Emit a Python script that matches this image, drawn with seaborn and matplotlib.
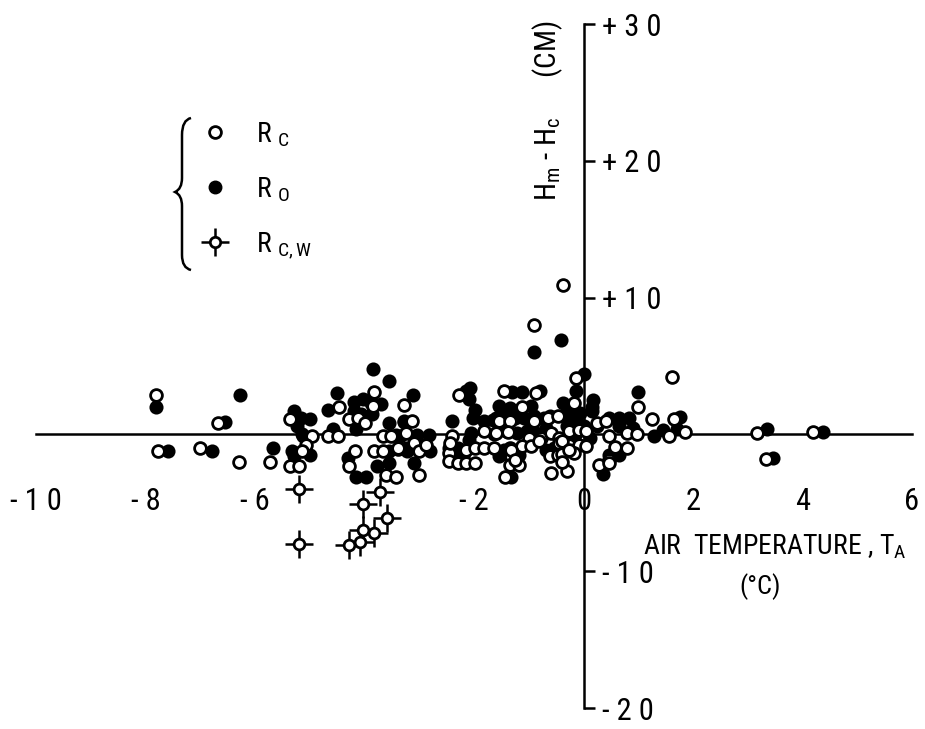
import matplotlib
matplotlib.use("Agg")
import matplotlib.pyplot as plt
import seaborn as sns
import numpy as np
import pandas as pd
from matplotlib.lines import Line2D
from matplotlib.path import Path
from matplotlib.patches import PathPatch

sns.set_style("white")
plt.rcParams['font.family'] = ['Roboto Condensed', 'DejaVu Sans']
plt.rcParams['font.stretch'] = 'condensed'
plt.rcParams['mathtext.fontset'] = 'custom'
plt.rcParams['mathtext.rm'] = 'Roboto Condensed'
plt.rcParams['text.color'] = 'black'
plt.rcParams['xtick.color'] = 'black'
plt.rcParams['ytick.color'] = 'black'

# R_C  (open circles)
rc_x = [-7.81, -6.67, -7.77, -7.0, -6.29, -5.72,
        -5.36, -4.95, -5.06, -5.14, -5.36, -5.19,
        -3.82, -4.46, -3.84, -4.28, -4.11, -3.99, -4.66, -4.48, -3.66, -3.51, -4.17, -4.28,
        -3.82, -3.66, -3.38, -3.6, -3.42,
        -3.27, -3.14, -2.27, -1.46, -3.24, -2.41, -1.81, -1.59, -3.38, -3.09, -3.0, -2.87,
        -3.0, -2.14, -1.99, -1.81, -1.63, -2.45, -2.45, -2.29, -2.14, -1.99, -2.43,
        -0.86, -0.13, -1.13, -0.18, -1.54, -1.35, -0.91, -0.64, -0.46, -0.27, -0.09, 0.05,
        0.24, 0.42, -0.99, -0.77, -0.59, -0.44, -1.13, -0.95, -0.44, -0.27, -0.09, 0.05,
        -1.35, -1.32, -1.35, -1.17, -0.62, -0.46, -0.18, -0.59, -0.31, 0.29, -1.44,
        -1.37, -0.82, -1.32, -1.26, -0.4, -0.4, -0.4, -0.27, 0.46,
        -0.38, -0.9,
        1.61, 0.99, 1.26, 1.65, 0.47, 0.8, 0.97, 1.57, 1.85, 0.57, 0.79, 0.47,
        3.16, 4.19, 3.33]
rc_y = [2.9, 0.8, -1.2, -1.0, -2.0, -2.0,
        1.1, -0.1, -0.8, -1.2, -2.3, -2.3,
        3.1, 2.0, 2.1, 1.1, 1.2, 0.8, -0.1, -0.1, -0.1, -0.1, -1.2, -2.3,
        -1.2, -1.2, -1.1, -3.0, -3.1,
        2.12, 0.95, 2.85, 3.14, 0.07, -0.15, 0.22, 0.07, -1.02, -0.66, -1.24, -0.8,
        -3.0, -1.17, -1.02, -1.02, -1.02, -1.39, -1.97, -2.12, -2.12, -2.12, -0.66,
        3.0, 4.1, 1.97, 2.26, 0.95, 0.95, 0.95, 1.17, 1.38, 0.22, 0.29, 0.22,
        0.8, 1.0, -0.29, -0.29, 0.07, -0.29, -0.88, -0.88, -0.66, -0.8, -0.8, -0.88,
        -1.02, -1.6, -2.26, -2.26, -1.6, -1.53, -1.39, -2.85, -2.7, -2.26, -3.1,
        0.2, -0.5, -1.17, -1.9, -0.5, -1.4, -2.0, -1.17, -1.9,
        10.9, 8.0,
        4.2, 2.0, 1.1, 1.1, -0.1, 0.1, 0.0, -0.1, 0.2, -0.9, -1.0, -2.1,
        0.1, 0.2, -1.8]

# R_O  (filled circles)
ro_x = [-7.81, -6.54, -6.27, -7.59, -6.78, -5.67,
        -5.28, -5.16, -5.0, -5.23, -5.12, -5.32, -5.28, -5.0, -5.14,
        -3.84, -3.56, -4.5, -4.66, -4.2, -4.02, -3.88, -3.69, -4.2, -4.06, -3.86, -4.15,
        -3.56, -3.27, -4.57, -3.36, -3.56, -3.22, -4.3, -3.78, -3.56, -4.15, -3.97, -2.8,
        -3.11, -3.27, -2.41, -2.14, -2.08, -2.1, -1.99, -2.01, -1.81, -1.59, -3.42, -3.05,
        -2.82, -3.24, -3.09, -2.45, -2.29, -2.1, -2.05, -2.32, -2.18, -1.46, -1.65,
        -1.54, -1.35, -1.17, -0.95, -0.37, -0.22, 0.18, 0.15, -1.59, -1.41, -1.26, -1.08,
        -0.91, -0.73, -0.62, -0.35, -0.22, -0.07, -0.13, 0.0, -0.31, -1.41, -1.22, -1.04,
        -0.86, -0.68, -0.16, 0.11, -1.46, -1.54, -0.68, -0.53, -1.32, -0.95, -0.09,
        -1.63, -1.35, -1.17, -0.68,
        -1.3, -1.13, -0.8, 0.0, -0.13, -0.42, -0.9,
        1.0, 1.76, 0.46, 0.64, 0.84, 0.64, 0.91, 1.28, 1.46, 1.7, 0.64, 0.47, 0.36,
        0.15, 0.24, 3.35, 4.37, 3.47]
ro_y = [2.0, 0.9, 2.85, -1.2, -1.2, -1.0,
        1.7, 1.2, 1.1, 0.6, -0.1, -1.2, -1.6, -1.5, 0.0,
        4.8, 3.9, 3.0, 1.8, 2.4, 2.6, 2.3, 2.2, 1.7, 1.5, 1.5, 0.4,
        0.8, 0.9, 0.4, -0.1, -1.2, -1.2, -1.7, -2.3, -2.1, -3.1, -3.1, -1.2,
        2.85, 0.95, 1.0, 3.14, 3.36, 2.6, 1.75, 1.17, 0.95, 0.95, -0.07, -0.07,
        -0.07, -1.02, -2.12, -1.02, -1.02, -0.44, 0.07, -1.53, -1.39, 1.68, 1.02,
        2.1, 1.9, 1.75, 2.1, 2.26, 2.1, 2.5, 2.0, 1.17, 1.31, 1.17, 1.17,
        1.31, 1.17, 1.38, 1.38, 1.17, 1.53, 0.8, 0.65, 0.58, 0.22, 0.07, 0.22,
        0.07, 0.44, -0.07, -0.29, -1.17, -1.6, -1.17, -1.02, -3.1, 0.7, 0.7,
        0.0, -1.6, -1.53, 0.07,
        3.07, 3.07, 3.14, 4.45, 3.14, 6.9, 6.0,
        3.1, 1.3, 1.2, 1.2, 1.2, 0.6, 0.5, -0.1, 0.3, 0.4, -1.5, -1.5, -2.9,
        1.68, 0.65, 0.4, 0.2, -1.7]

# R_C,W  (open circles with cross)
rcw_x = [-5.19, -5.19, -3.71, -4.02, -3.58, -4.02, -3.82, -4.08, -4.28]
rcw_y = [-4.0, -8.0, -4.2, -5.1, -6.1, -7.0, -7.2, -7.9, -8.1]

x_ticks = [-10, -8, -6, -4, -2, 0, 2, 4, 6]
x_labels = ['- 1 0', '- 8', '- 6', '', '- 2', '0', '2', '4', '6']
y_ticks = [-20, -10, 10, 20, 30]
y_labels = ['- 2 0', '- 1 0', '+ 1 0', '+ 2 0', '+ 3 0']

df_c = pd.DataFrame({'x': rc_x, 'y': rc_y})
df_o = pd.DataFrame({'x': ro_x, 'y': ro_y})
df_w = pd.DataFrame({'x': rcw_x, 'y': rcw_y})

fig = plt.figure(figsize=(9.25, 7.29), dpi=100)
ax = fig.add_axes([36 / 925, 21 / 729, 876 / 925, 684 / 729])

sns.scatterplot(data=df_o, x='x', y='y', ax=ax, marker='o', s=80, color='black',
                edgecolor='black', linewidth=1.2, zorder=3, clip_on=False)
sns.scatterplot(data=df_c, x='x', y='y', ax=ax, marker='o', s=72, color='white',
                edgecolor='black', linewidth=2.0, zorder=4, clip_on=False)
sns.scatterplot(data=df_w, x='x', y='y', ax=ax, marker='+', s=420, color='black',
                linewidth=1.8, zorder=5, clip_on=False)
sns.scatterplot(data=df_w, x='x', y='y', ax=ax, marker='o', s=60, color='white',
                edgecolor='black', linewidth=2.0, zorder=6, clip_on=False)

ax.set_xlim(-10, 6)
ax.set_ylim(-20, 30)
ax.set_xlabel('')
ax.set_ylabel('')

# axes through the origin
for side in ['top', 'left']:
    ax.spines[side].set_visible(False)
ax.spines['bottom'].set_position(('data', 0))
ax.spines['right'].set_position(('data', 0))
ax.spines['bottom'].set_bounds(-10, 6)
ax.spines['right'].set_bounds(-20, 30)
for side in ['bottom', 'right']:
    ax.spines[side].set_linewidth(1.8)
    ax.spines[side].set_color('black')

ax.yaxis.tick_right()
ax.set_xticks(x_ticks)
ax.set_xticklabels(x_labels)
ax.set_yticks(y_ticks)
ax.set_yticklabels(y_labels)
ax.tick_params(axis='x', direction='out', length=8, width=1.8, pad=30, labelsize=22)
ax.tick_params(axis='y', direction='out', length=8, width=1.8, pad=5, labelsize=22)

ax.text(-0.66, 23.7, r'H$_\mathrm{m}$ - H$_\mathrm{c}$      (CM)', rotation=90,
        ha='center', va='center', fontsize=21)
ax.text(3.5, -8.2, r'AIR  TEMPERATURE , T$_\mathrm{A}$', ha='center', va='center',
        fontsize=20)
ax.text(3.22, -11.1, '(°C)', ha='center', va='center', fontsize=19)

# legend
h_c = Line2D([], [], marker='o', ls='none', ms=8.5, mfc='white', mec='black', mew=2.0)
h_o = Line2D([], [], marker='o', ls='none', ms=9, mfc='black', mec='black')
h_w1 = Line2D([], [], marker='+', ls='none', ms=20, mec='black', mew=1.8)
h_w2 = Line2D([], [], marker='o', ls='none', ms=7.5, mfc='white', mec='black', mew=2.0)
ax.legend([h_c, h_o, (h_w1, h_w2)],
          [r'R $_\mathrm{C}$', r'R $_\mathrm{O}$', r'R $_\mathrm{C,W}$'],
          loc='upper left', bbox_to_anchor=(187 / 925, 1 - 106 / 729),
          bbox_transform=fig.transFigure, frameon=False, fontsize=20,
          handlelength=1.0, handletextpad=1.0, labelspacing=0.95, borderpad=0)

# brace
def fp(px, py):
    return (px / 925, 1 - py / 729)

verts = [fp(191, 118), fp(182, 120), fp(182, 135), fp(182, 178), fp(182, 189),
         fp(175, 192), fp(182, 195), fp(182, 206), fp(182, 255), fp(182, 268),
         fp(191, 270)]
codes = [Path.MOVETO, Path.CURVE3, Path.CURVE3, Path.LINETO, Path.CURVE3, Path.CURVE3,
         Path.CURVE3, Path.CURVE3, Path.LINETO, Path.CURVE3, Path.CURVE3]
fig.patches.append(PathPatch(Path(verts, codes), transform=fig.transFigure,
                             fill=False, lw=1.8, color='black'))

fig.savefig('out.png', dpi=100, facecolor='white')
